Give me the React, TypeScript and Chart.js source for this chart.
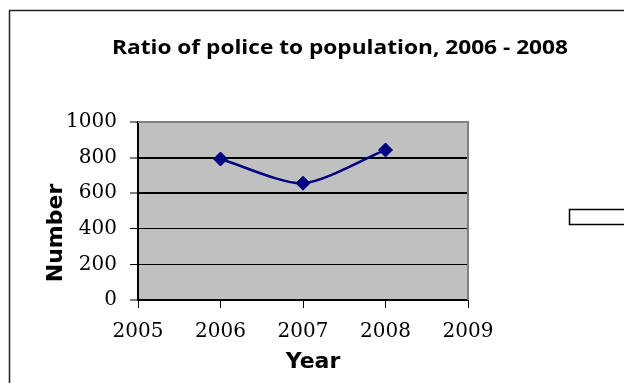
import React, { useEffect, useRef } from "react";
import { Chart, registerables } from "chart.js";

Chart.register(...registerables);

const years = [2006, 2007, 2008];
const values = [792, 656, 843];
const xTicks = [2005, 2006, 2007, 2008, 2009];
const yTicks = [0, 200, 400, 600, 800, 1000];
const titleText = "Ratio of police to population, 2006 - 2008";
const xTitle = "Year";
const yTitle = "Number";

const decor = {
  id: "decor",
  beforeDraw(chart: any) {
    const { ctx, chartArea: a } = chart;
    ctx.save();
    ctx.fillStyle = "#ffffff";
    ctx.fillRect(0, 0, chart.width, chart.height);
    ctx.fillStyle = "#C0C0C0";
    ctx.fillRect(a.left, a.top, a.right - a.left, a.bottom - a.top);
    ctx.restore();
  },
  afterDraw(chart: any) {
    const { ctx, chartArea: a } = chart;
    ctx.save();
    // plot top/right gray border
    ctx.strokeStyle = "#808080";
    ctx.lineWidth = 2;
    ctx.beginPath();
    ctx.moveTo(a.left, a.top);
    ctx.lineTo(a.right, a.top);
    ctx.lineTo(a.right, a.bottom);
    ctx.stroke();
    // outer frame
    ctx.strokeStyle = "#222";
    ctx.lineWidth = 1.5;
    ctx.beginPath();
    ctx.moveTo(9.5, chart.height + 5);
    ctx.lineTo(9.5, 10.5);
    ctx.lineTo(chart.width + 5, 10.5);
    ctx.stroke();
    // legend box
    ctx.fillStyle = "#fff";
    ctx.fillRect(569, 209, 60, 16);
    ctx.strokeStyle = "#000";
    ctx.lineWidth = 1.5;
    ctx.strokeRect(569.5, 209.5, 60, 15);
    // title (horizontally stretched like the reference)
    ctx.fillStyle = "#000";
    ctx.textAlign = "center";
    ctx.textBaseline = "alphabetic";
    ctx.font = "bold 20px 'Open Sans'";
    const w = ctx.measureText(titleText).width;
    const sx = 456 / w;
    ctx.save();
    ctx.translate(340, 54);
    ctx.scale(sx, 1);
    ctx.fillText(titleText, 0, 0);
    ctx.restore();
    // axis titles
    ctx.font = "bold 22px 'DejaVu Sans'";
    ctx.fillText(xTitle, 313, 368);
    ctx.save();
    ctx.translate(62, 233);
    ctx.rotate(-Math.PI / 2);
    ctx.fillText(yTitle, 0, 0);
    ctx.restore();
    ctx.restore();
  },
};

export default function App() {
  const ref = useRef<HTMLCanvasElement>(null);
  useEffect(() => {
    const chart = new Chart(ref.current!, {
      type: "line",
      data: {
        datasets: [
          {
            data: years.map((y, i) => ({ x: y, y: values[i] })),
            borderColor: "#000080",
            backgroundColor: "#000080",
            borderWidth: 2.5,
            tension: 0.25,
            pointStyle: "rectRot",
            pointRadius: 7,
            pointHoverRadius: 7,
            pointBorderWidth: 1,
            fill: false,
          },
        ],
      },
      options: {
        responsive: false,
        animation: false,
        layout: { padding: { left: 0, top: 122, right: 156, bottom: 0 } },
        plugins: {
          legend: { display: false },
          title: { display: false },
          tooltip: { enabled: false },
        },
        scales: {
          x: {
            type: "linear",
            min: xTicks[0],
            max: xTicks[xTicks.length - 1],
            afterBuildTicks: (s: any) => {
              s.ticks = xTicks.map((v) => ({ value: v }));
            },
            afterFit: (s: any) => {
              s.height = 83;
            },
            ticks: {
              color: "#000",
              font: { family: "'DejaVu Serif'", size: 20 },
              padding: 12,
              maxRotation: 0,
              callback: (v: any) => String(v),
            },
            grid: {
              drawOnChartArea: false,
              drawTicks: true,
              tickLength: 8,
              color: "#000",
              tickWidth: 1,
            },
            border: { display: true, color: "#000", width: 2 },
          },
          y: {
            type: "linear",
            min: yTicks[0],
            max: yTicks[yTicks.length - 1],
            afterBuildTicks: (s: any) => {
              s.ticks = yTicks.map((v) => ({ value: v }));
            },
            afterFit: (s: any) => {
              s.width = 138;
            },
            ticks: {
              color: "#000",
              font: { family: "'DejaVu Serif'", size: 20 },
              padding: 13,
              callback: (v: any) => String(v),
            },
            grid: {
              color: "#000",
              lineWidth: (c: any) => {
                const v = c.tick ? c.tick.value : 0;
                if (v === 800 || v === 600) return 2;
                if (v === 400 || v === 200) return 1;
                return 0;
              },
              tickWidth: 1,
              tickColor: "#000",
              tickLength: 8,
            },
            border: { display: true, color: "#000", width: 2 },
          },
        },
      },
      plugins: [decor],
    });
    return () => chart.destroy();
  }, []);
  return (
    <div style={{ position: "fixed", left: 0, top: 0, width: 624, height: 383, background: "#fff" }}>
      <canvas ref={ref} width={624} height={383} style={{ display: "block" }} />
    </div>
  );
}
